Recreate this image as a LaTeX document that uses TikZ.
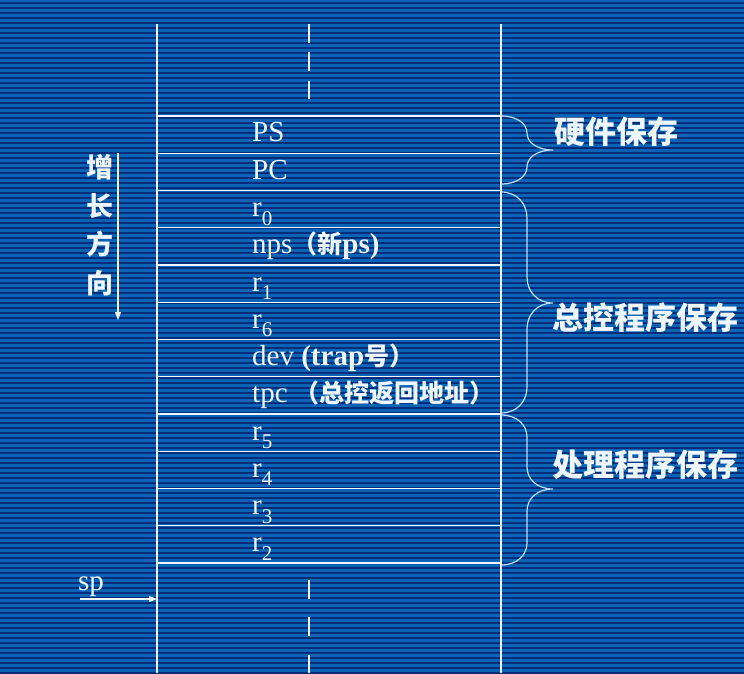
\documentclass[tikz,border=0pt]{standalone}
\usepackage{fontspec}
\setmainfont{Liberation Serif}
\newfontfamily\cjk{Noto Sans CJK SC}
\usetikzlibrary{arrows.meta}
\definecolor{slide}{RGB}{10,100,182}
\definecolor{stripe}{RGB}{8,44,122}
\definecolor{ink}{RGB}{238,247,255}
\definecolor{bracecol}{RGB}{190,222,250}
\newcommand\Han[1]{{\cjk\bfseries\fontsize{25}{26}\selectfont #1}}
\newcommand\Sub[1]{\raisebox{-0.3em}{\fontsize{21}{21}\selectfont #1}}
% a curly brace right of the stack: top, tip, bottom, corner radius
\newcommand\StackBrace[4]{%
  \draw[bracecol,line width=1.2pt] (501,#1)
    .. controls (517,#1) and (527,#1+0.45*#4) .. (527,#1+#4) -- (527,#2-#4)
    .. controls (527,#2-0.45*#4) and (537,#2) .. (553,#2)
    .. controls (537,#2) and (527,#2+0.45*#4) .. (527,#2+#4) -- (527,#3-#4)
    .. controls (527,#3-0.45*#4) and (517,#3) .. (501,#3);}

\begin{document}
\begin{tikzpicture}[x=1pt,y=-1pt,
  wire/.style={ink,line width=1.3pt},
  celltext/.style={ink,anchor=base west,inner sep=0pt,font=\fontsize{29}{30}\selectfont},
  sidelabel/.style={ink,anchor=west,inner sep=0pt,font=\fontsize{31}{32}\selectfont\cjk\bfseries}]

  % the striped slide background
  \fill[slide] (0,0) rectangle (744,673);
  \foreach \y in {2,7,...,672}
  \fill[stripe] (0,\y) rectangle (744,\y+1.6);
  \useasboundingbox (0,0) rectangle (744,673);

  % the walls of the stack
  \draw[wire] (157,24) -- (157,673);
  \draw[wire] (501,24) -- (501,673);
  \foreach \a/\b in {24/43,52/71,81/99,580/599,617/636,655/673}
  \draw[wire] (309,\a) -- (309,\b);
  % the cell borders
  \foreach \k in {0,...,12}
  \draw[wire] (157,116+37.25*\k) -- (501,116+37.25*\k);

  % what each cell holds
  \foreach \k/\txt in {0/PS,1/PC,2/{r\Sub{0}},3/{nps\Han{（新}\textbf{ps)}},
    4/{r\Sub{1}},5/{r\Sub{6}},6/{dev \textbf{(trap}\Han{号）}},
    7/{tpc\ \Han{（总控返回地址）}},8/{r\Sub{5}},9/{r\Sub{4}},
    10/{r\Sub{3}},11/{r\Sub{2}}}
  \node[celltext] (cell\k) at (252,142+37.25*\k) {\txt};

  % the braces and their labels
  \StackBrace{116}{150}{184}{17}
  \StackBrace{192}{303}{413}{26}
  \StackBrace{415}{489}{565}{22}
  \node[sidelabel] (hwsave) at (554,132) {硬件保存};
  \node[sidelabel] (mainsave) at (552,318) {总控程序保存};
  \node[sidelabel] (handlersave) at (552,465) {处理程序保存};

  % the growth direction
  \node[ink,font=\fontsize{27}{38.5}\selectfont\cjk\bfseries,align=center,inner sep=0pt]
  (growdir) at (100,225) {增\\长\\方\\向};
  \coordinate (growtop) at (118,153);
  \coordinate (growend) at (118,320);
  \draw[ink,line width=1.2pt,-{Triangle[length=8pt,width=6pt]}] (growtop) -- (growend);

  % the stack pointer
  \node[celltext] (sp) at (78,590) {sp};
  \coordinate (spfrom) at (80,599);
  \coordinate (spto) at (157,599);
  \draw[ink,line width=1.2pt,-{Triangle[length=8pt,width=6pt]}] (spfrom) -- (spto);
\end{tikzpicture}
\end{document}
